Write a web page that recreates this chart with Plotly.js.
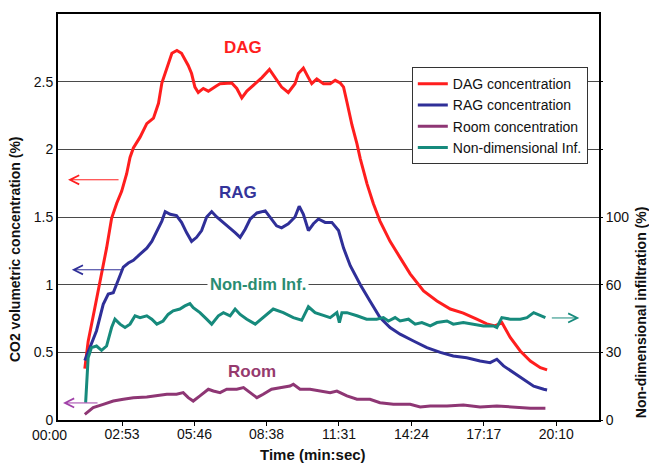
<!DOCTYPE html>
<html>
<head>
<meta charset="utf-8">
<script src="https://cdn.plot.ly/plotly-3.0.1.min.js"></script>
<style>html,body{margin:0;padding:0;background:#fff;}#chart{width:649px;height:464px;}</style>
</head>
<body>
<div id="chart"></div>
<script>
// Time in seconds
var dagTime = [84,92,108,124,136,148,160,172,184,192,200,216,232,248,260,268,280,292,304,315,331,339,347,355,367,379,399,407,435,447,459,471,491,507,525,538,554,570,586,594,606,618,626,638,654,670,682,694,702,710,722,734,742,758,773,789,813,837,861,893,925,957,988,1020,1044,1064,1080,1100,1124,1148,1172,1188];
var dagConc = [0.38,0.58,0.83,1.08,1.27,1.49,1.60,1.69,1.82,1.94,2.01,2.09,2.19,2.23,2.34,2.49,2.60,2.71,2.73,2.71,2.62,2.56,2.46,2.42,2.45,2.43,2.47,2.485,2.49,2.45,2.38,2.43,2.485,2.53,2.59,2.53,2.46,2.42,2.485,2.56,2.60,2.53,2.485,2.52,2.485,2.485,2.51,2.49,2.46,2.35,2.18,2.04,1.93,1.745,1.60,1.47,1.32,1.20,1.08,0.954,0.88,0.82,0.79,0.745,0.71,0.695,0.72,0.61,0.51,0.436,0.387,0.37];

var ragTime = [84,96,112,128,140,152,164,176,188,200,216,232,244,256,268,276,288,303,315,327,339,351,363,375,387,399,415,431,443,455,467,479,495,515,526,542,554,570,586,596,606,618,630,642,658,674,690,702,718,742,765,789,813,837,869,901,933,964,996,1028,1052,1068,1084,1108,1132,1156,1180,1188];
var ragConc = [0.44,0.535,0.66,0.855,0.93,0.94,1.03,1.13,1.16,1.18,1.225,1.27,1.32,1.40,1.47,1.54,1.52,1.51,1.46,1.385,1.32,1.35,1.40,1.50,1.54,1.50,1.46,1.42,1.385,1.35,1.41,1.485,1.53,1.545,1.50,1.435,1.42,1.45,1.50,1.58,1.52,1.40,1.45,1.485,1.46,1.46,1.40,1.27,1.14,1.00,0.88,0.757,0.683,0.634,0.584,0.535,0.50,0.473,0.46,0.436,0.424,0.449,0.40,0.35,0.30,0.25,0.227,0.222];

var roomTime = [84,104,128,152,176,200,232,256,280,303,319,331,343,359,379,391,407,423,447,463,479,495,510,530,550,574,582,598,622,646,670,686,710,734,765,789,821,861,885,909,949,988,1028,1068,1108,1148,1184];
var roomConc = [0.042,0.091,0.116,0.14,0.153,0.165,0.17,0.178,0.19,0.19,0.202,0.165,0.14,0.178,0.227,0.214,0.202,0.227,0.227,0.239,0.202,0.165,0.19,0.227,0.239,0.251,0.264,0.227,0.227,0.214,0.202,0.214,0.178,0.153,0.153,0.128,0.116,0.116,0.096,0.104,0.104,0.111,0.096,0.104,0.096,0.087,0.087];

var infTime = [86,92,100,112,124,136,148,156,168,180,192,204,216,232,244,256,271,283,295,311,323,335,343,359,375,387,403,415,431,443,455,471,491,510,534,558,582,602,618,634,654,670,686,692,698,710,734,757,781,797,809,825,837,857,873,889,909,925,949,964,988,1012,1036,1060,1068,1080,1100,1124,1140,1156,1168,1184];
var infPct = [7.7,27.6,32.1,32.8,30.9,32.8,41.0,44.7,42.5,41.0,42.5,46.2,45.4,46.2,44.7,42.5,43.9,46.8,48.4,49.2,50.6,51.6,49.8,47.6,44.7,42.5,46.2,47.6,46.2,49.2,46.8,44.7,42.5,45.4,49.2,47.6,45.4,44.2,50.2,47.6,46.2,45.4,47.6,43.2,47.6,47.6,46.2,44.7,44.7,45.4,43.9,45.4,43.9,44.7,42.5,43.2,41.7,43.2,43.9,42.5,43.2,42.5,41.7,41.7,41.0,45.4,44.7,44.7,45.4,47.6,46.8,45.4];

var xTickVals = [173,346,518,691,864,1037,1210];
var xTickText = ['02:53','05:46','08:38','11:31','14:24','17:17','20:10'];
var yTickVals = [0,0.5,1,1.5,2,2.5];
var yTickText = ['0','0.5','1','1.5','2','2.5'];
var y2TickVals = [0,30,60,90,120,150];
var y2TickText = ['0','30','60','100','',''];

var FONT = 'Liberation Sans, Arial, sans-serif';
var cRed = '#ff1e1e', cBlue = '#2f2f98', cRoom = '#8e3674', cTeal = '#168a7c';

var traces = [
  {x: dagTime, y: dagConc, name: 'DAG concentration', mode: 'lines', line: {color: cRed, width: 3}},
  {x: ragTime, y: ragConc, name: 'RAG concentration', mode: 'lines', line: {color: cBlue, width: 3}},
  {x: roomTime, y: roomConc, name: 'Room concentration', mode: 'lines', line: {color: cRoom, width: 3}},
  {x: infTime, y: infPct, name: 'Non-dimensional Inf.', mode: 'lines', yaxis: 'y2', line: {color: cTeal, width: 3}}
];

function arrow(x, y, ax, color) {
  return {x: x, y: y, xref: 'x', yref: 'y', ax: ax, ay: 0, text: '', showarrow: true,
    arrowhead: 5, arrowsize: 1.8, arrowwidth: 1, arrowcolor: color, standoff: 0};
}

var layout = {
  width: 649, height: 464,
  margin: {l: 58, r: 50, t: 14, b: 44},
  paper_bgcolor: '#ffffff', plot_bgcolor: '#ffffff',
  font: {family: FONT, size: 14, color: '#111'},
  showlegend: true,
  legend: {x: 0.654, y: 0.869, xanchor: 'left', yanchor: 'top', bgcolor: '#ffffff',
    bordercolor: '#333', borderwidth: 1, font: {family: FONT, size: 14, color: '#111'}},
  xaxis: {range: [20, 1312], tickvals: xTickVals, ticktext: xTickText, showgrid: false, zeroline: false,
    showline: true, mirror: true, linecolor: '#000', linewidth: 2, ticks: 'outside', ticklen: 4, tickcolor: '#000',
    ticklabelstandoff: -4, tickfont: {size: 14}},
  yaxis: {range: [0, 3.0], tickvals: yTickVals, ticktext: yTickText, showgrid: true, gridcolor: '#4a4a4a', gridwidth: 1,
    zeroline: false, showline: true, mirror: true, linecolor: '#000', linewidth: 2, ticks: '', tickfont: {size: 14}},
  yaxis2: {overlaying: 'y', side: 'right', range: [0, 180], tickvals: y2TickVals, ticktext: y2TickText,
    showgrid: false, zeroline: false, showline: false, ticks: 'outside', ticklen: 3, tickcolor: '#000', tickfont: {size: 14}},
  annotations: [
    {x: -0.0153, y: -0.036, xref: 'paper', yref: 'paper', xanchor: 'center', yanchor: 'middle', text: '00:00', showarrow: false, font: {size: 14}},
    {x: 0.471, y: -0.086, xref: 'paper', yref: 'paper', xanchor: 'center', yanchor: 'middle', text: '<b>Time (min:sec)</b>', showarrow: false, font: {size: 15}},
    {x: -0.0795, y: 0.421, xref: 'paper', yref: 'paper', xanchor: 'center', yanchor: 'middle', text: '<b>CO2 volumetric concentration (%)</b>', textangle: -90, showarrow: false, font: {size: 14}},
    {x: 1.078, y: 0.266, xref: 'paper', yref: 'paper', xanchor: 'center', yanchor: 'middle', text: '<b>Non-dimensional infiltration (%)</b>', textangle: -90, showarrow: false, font: {size: 14}},
    {x: 462, y: 2.75, text: '<b>DAG</b>', showarrow: false, font: {size: 17, color: '#ff1e1e'}},
    {x: 450, y: 1.68, text: '<b>RAG</b>', showarrow: false, font: {size: 17, color: '#34349a'}},
    {x: 498, y: 1.006, text: '<b>Non-dim Inf.</b>', showarrow: false, bgcolor: '#ffffff', borderpad: 2, font: {size: 16.5, color: '#2a8c72'}},
    {x: 483, y: 0.355, text: '<b>Room</b>', showarrow: false, font: {size: 17, color: '#963a6e'}},
    arrow(44, 1.775, 52, cRed),
    arrow(53, 1.11, 52, cBlue),
    arrow(32, 0.126, 36, '#a040a8'),
    arrow(1265, 0.754, -29, cTeal)
  ]
};

Plotly.newPlot('chart', traces, layout, {displayModeBar: false, staticPlot: true});
</script>
</body>
</html>
